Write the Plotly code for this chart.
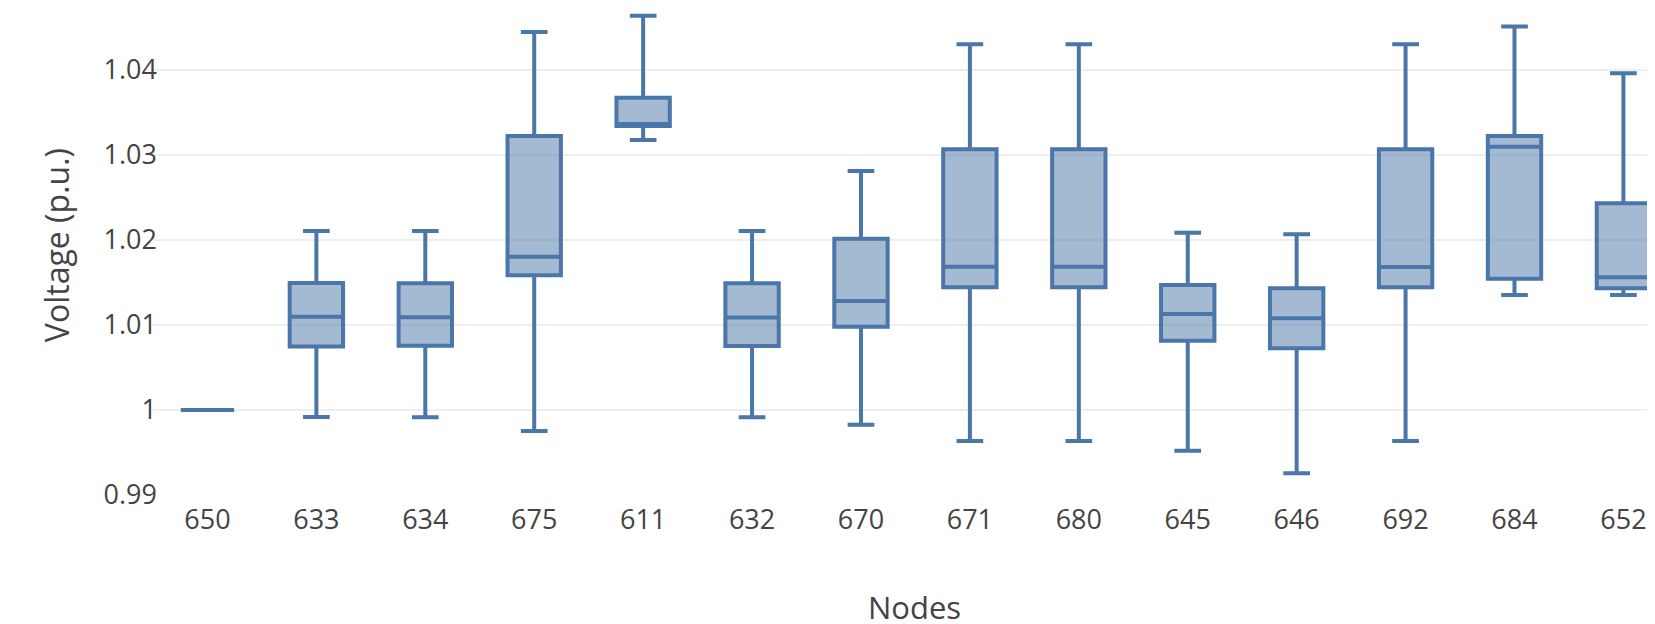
import plotly.graph_objects as go

nodes = ["650", "633", "634", "675", "611", "632", "670", "671", "680", "645", "646", "692", "684", "652"]
upper = [1.0000, 1.02106, 1.02106, 1.04447, 1.04639, 1.02106, 1.02812, 1.04302, 1.04302, 1.02086, 1.02067, 1.04302, 1.04510, 1.03961]
q3 = [1.0000, 1.01495, 1.01492, 1.03224, 1.03674, 1.01490, 1.02015, 1.03067, 1.03067, 1.01471, 1.01432, 1.03067, 1.03224, 1.02432]
median = [1.0000, 1.01096, 1.01092, 1.01804, 1.03365, 1.01088, 1.01282, 1.01686, 1.01686, 1.01129, 1.01079, 1.01682, 1.03098, 1.01561]
q1 = [1.0000, 1.00748, 1.00755, 1.01585, 1.03341, 1.00753, 1.00980, 1.01444, 1.01444, 1.00816, 1.00726, 1.01444, 1.01545, 1.01432]
lower = [1.0000, 0.99918, 0.99914, 0.99753, 1.03176, 0.99914, 0.99827, 0.99635, 0.99635, 0.99521, 0.99255, 0.99635, 1.01353, 1.01353]

line_color = "#4a76a8"

fig = go.Figure()
fig.add_trace(go.Box(
    x=nodes,
    q1=q1,
    median=median,
    q3=q3,
    lowerfence=lower,
    upperfence=upper,
    boxpoints=False,
    line=dict(color=line_color, width=4),
    fillcolor="rgba(74,118,168,0.5)",
    showlegend=False,
))

font_family = "Open Sans, sans-serif"

fig.update_layout(
    width=1647,
    height=616,
    margin=dict(l=145, r=0, t=0, b=129),
    plot_bgcolor="white",
    paper_bgcolor="white",
    font=dict(family=font_family, color="#444444", size=27),
    xaxis=dict(
        type="category",
        range=[-0.5, 13.29],
        showgrid=False,
        zeroline=False,
        showline=False,
        ticks="",
        ticklabelstandoff=6,
        tickfont=dict(size=27, color="#444444"),
    ),
    yaxis=dict(
        range=[0.99, 1.04729],
        tickvals=[0.99, 1.0, 1.01, 1.02, 1.03, 1.04],
        ticktext=["0.99", "1", "1.01", "1.02", "1.03", "1.04"],
        showgrid=True,
        gridcolor="#eeeeee",
        gridwidth=2,
        zeroline=False,
        showline=False,
        ticks="",
        ticklabelstandoff=-5,
        tickfont=dict(size=27, color="#444444"),
    ),
    annotations=[
        dict(text="Nodes", xref="paper", yref="paper", x=0.5073, y=-0.230,
             xanchor="center", yanchor="middle", showarrow=False,
             font=dict(size=31, color="#444444", family=font_family)),
        dict(text="Voltage (p.u.)", xref="paper", yref="paper", x=-0.0646, y=0.513,
             xanchor="center", yanchor="middle", showarrow=False, textangle=-90,
             font=dict(size=32, color="#444444", family=font_family)),
    ],
)

fig.write_html("out.html")
